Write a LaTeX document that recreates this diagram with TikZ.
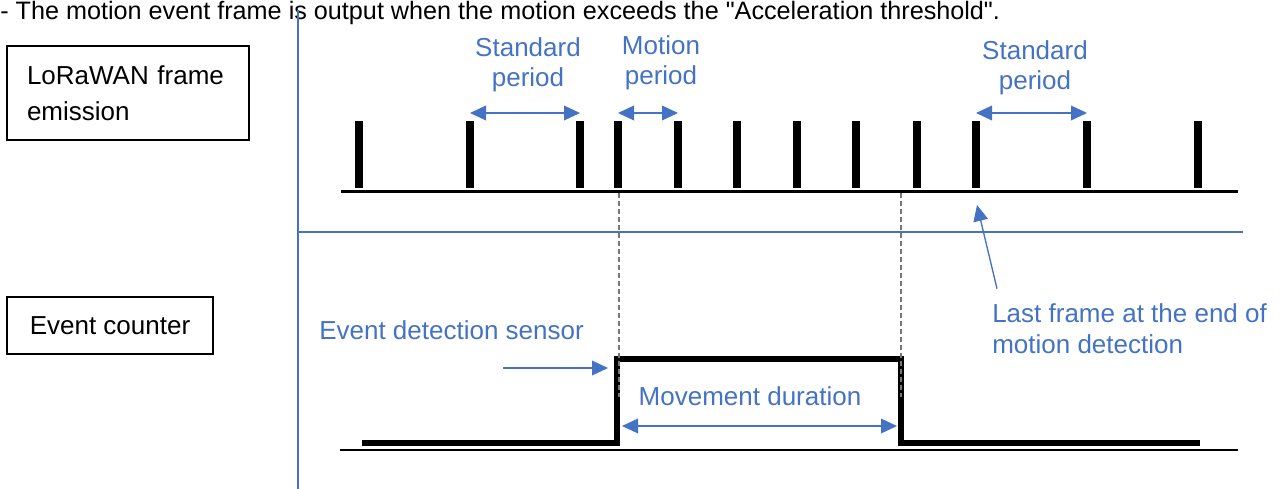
\documentclass[tikz,border=0pt]{standalone}
\usepackage{fontspec}
\setmainfont{Liberation Sans}[Ligatures=TeXOff]
\usetikzlibrary{arrows.meta,positioning,calc}
\definecolor{lblue}{HTML}{4472C4}
\definecolor{dgray}{HTML}{777777}
\tikzset{
  txt/.style={inner sep=0pt, font=\fontsize{19.5}{22.5}\selectfont},
  bluetxt/.style={txt, text=lblue, align=center},
  labelbox/.style={draw, line width=1.5pt, font=\fontsize{19.5}{27}\selectfont},
  periodarrow/.style={draw=lblue, line width=1pt, {Triangle[length=12pt,width=11pt]}-{Triangle[length=12pt,width=11pt]}},
  pointer/.style={draw=lblue, line width=1pt, -{Triangle[length=12pt,width=11pt]}},
  framebar/.style={line width=6pt},
  axis/.style={line width=2.25pt},
  signal/.style={line width=4pt, miter limit=4},
  marker/.style={draw=dgray, line width=1.8pt, dash pattern=on 3.75pt off 2.25pt},
}
\begin{document}
\begin{tikzpicture}[x=0.75pt, y=-0.75pt]
\useasboundingbox (0,0) rectangle (1282,489);
% text on top and separators
\node[txt, anchor=base west, font=\fontsize{18.9}{22}\selectfont] (note) at (0,19) {- The motion event frame is output when the motion exceeds the "Acceleration threshold".};
\draw[lblue, line width=1pt] (298,10) -- (298,489);
\draw[lblue, line width=1pt] (298,232) -- (1243,232);
% left boxes
\node[labelbox, align=left, text width=151.5pt, inner xsep=15pt, minimum height=70.5pt] (lora) at (128,93) {LoRaWAN frame\\emission};
\node[labelbox, minimum width=154.5pt, minimum height=42.75pt] (counter) at (110,325.5) {Event counter};
% frames
\foreach \x [count=\i] in {359,470,580,618,678,737,797,856,917,976,1087,1198} {
  \coordinate (f\i) at (\x,188);
  \coordinate (p\i) at (\x,113);
}
\foreach \i in {1,...,12}
  \draw[framebar] (f\i) -- ++(0,-67);
\draw[axis] (341,191) -- (1238,191);
\draw[periodarrow] (p2) -- (p3);
\draw[periodarrow] (p4) -- (p5);
\draw[periodarrow] (p10) -- (p11);
\node[bluetxt] (std1) at (528,65) {Standard\\period};
\node[bluetxt] (mot) at (661,63) {Motion\\period};
\node[bluetxt] (std2) at (1035,68) {Standard\\period};
% event counter
\coordinate (s0) at (362,443);
\coordinate (rise) at (617,443);
\coordinate (riseTop) at (617,359);
\coordinate (fallTop) at (901,359);
\coordinate (fall) at (901,443);
\coordinate (s1) at (1200,443);
\draw[line width=1.5pt] (340,450) -- (1238,450);
\draw[signal] (s0) -- (rise) -- (riseTop) -- (fallTop) -- (fall) -- (s1);
\draw[marker] (619,193) -- (619,397);
\draw[marker] (901,193) -- (901,397);
\node[txt, text=lblue, anchor=west] (sensor) at (319,330) {Event detection sensor};
\coordinate (evTail) at (503,368);
\coordinate (evTip) at (608,368);
\draw[pointer] (evTail) -- (evTip);
\node[txt, text=lblue] (dur) at (750,396) {Movement duration};
\coordinate (durL) at (622,426);
\coordinate (durR) at (897,426);
\draw[periodarrow] (durL) -- (durR);
\node[txt, text=lblue, align=left, anchor=west, font=\fontsize{19.5}{23.25}\selectfont] (last) at (992,329) {Last frame at the end of\\motion detection};
\coordinate (lastTip) at (977,205);
\draw[pointer] ([shift={(5,-15)}]last.north west) -- (lastTip);
\end{tikzpicture}
\end{document}
